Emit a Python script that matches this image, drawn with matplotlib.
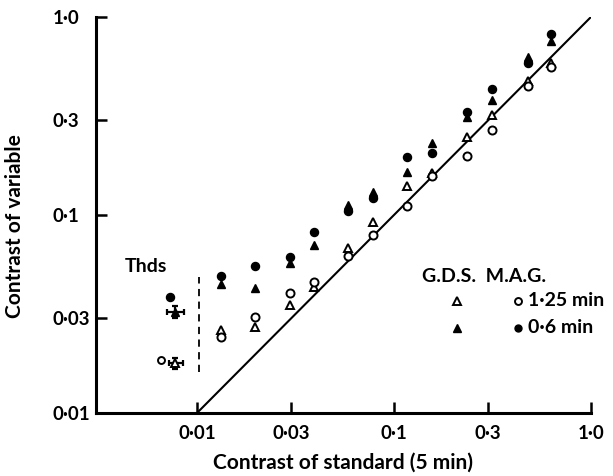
import matplotlib.pyplot as plt
import numpy as np

# contrast of standard (x) for each column of points
standard = [0.0132, 0.0197, 0.0296, 0.0392, 0.0582, 0.078,
            0.117, 0.155, 0.236, 0.313, 0.477, 0.630]

# contrast of variable (y) for the four series
gds_125 = [0.0262, 0.0272, 0.0351, 0.0433, 0.0681, 0.0922,
           0.140, 0.163, 0.248, 0.320, 0.475, 0.586]   # open triangles
mag_125 = [0.0242, 0.0305, 0.0404, 0.0459, 0.0621, 0.0793,
           0.111, 0.157, 0.199, 0.269, 0.448, 0.559]   # open circles
gds_06 = [0.0449, 0.0428, 0.0572, 0.0705, 0.112, 0.131,
          0.165, 0.231, 0.313, 0.381, 0.628, 0.757]    # filled triangles
mag_06 = [0.0492, 0.0552, 0.0614, 0.082, 0.105, 0.122,
          0.196, 0.206, 0.331, 0.433, 0.586, 0.821]    # filled circles

# thresholds (Thds)
thd_mag_x = [0.00658, 0.0073]          # open circle, filled circle
thd_mag_y = [0.0185, 0.0385]
thd_gds_x = [0.00773, 0.00773]         # open triangle, filled triangle
thd_gds_y = [0.0179, 0.0324]
thd_gds_xlo = [0.00721, 0.00705]
thd_gds_xhi = [0.00849, 0.00859]
thd_gds_ylo = [0.0167, 0.0302]
thd_gds_yhi = [0.0190, 0.0347]

dash_x = 0.0102
dash_y = [0.0161, 0.0486]

ticks = [0.01, 0.03, 0.1, 0.3, 1.0]
tick_labels = ['0·01', '0·03', '0·1', '0·3', '1·0']

plt.rcParams['font.family'] = ['Lato', 'DejaVu Sans']
plt.rcParams['font.weight'] = 'bold'

fig = plt.figure(figsize=(6.13, 4.76), dpi=100)
ax = fig.add_axes([0.1566, 0.1324, 0.8075, 0.832])

ax.set_xscale('log')
ax.set_yscale('log')
ax.set_xlim(0.00307, 1.0)
ax.set_ylim(0.01, 1.0)

ax.plot([0.01, 1.0], [0.01, 1.0], color='black', lw=1.5, zorder=1)
ax.plot([dash_x, dash_x], dash_y, color='black', lw=1.3, ls=(0, (4, 3)), zorder=1)

ms = 5.8
ax.plot(standard, gds_125, ls='none', marker='^', ms=ms, mfc='white', mec='black', mew=1.4, zorder=3)
ax.plot(standard, mag_125, ls='none', marker='o', ms=ms, mfc='white', mec='black', mew=1.4, zorder=3)
ax.plot(standard, gds_06, ls='none', marker='^', ms=ms, color='black', zorder=4)
ax.plot(standard, mag_06, ls='none', marker='o', ms=ms, color='black', zorder=4)

# thresholds
ax.plot(thd_mag_x[0], thd_mag_y[0], ls='none', marker='o', ms=5, mfc='white', mec='black', mew=1.4)
ax.plot(thd_mag_x[1], thd_mag_y[1], ls='none', marker='o', ms=ms, color='black')
xerr = [np.array(thd_gds_x) - np.array(thd_gds_xlo), np.array(thd_gds_xhi) - np.array(thd_gds_x)]
yerr = [np.array(thd_gds_y) - np.array(thd_gds_ylo), np.array(thd_gds_yhi) - np.array(thd_gds_y)]
ax.errorbar(thd_gds_x, thd_gds_y, xerr=xerr, yerr=yerr, fmt='none', ecolor='black',
            elinewidth=1.6, capsize=2, capthick=1.6)
ax.plot(thd_gds_x[0], thd_gds_y[0], ls='none', marker='^', ms=ms, mfc='white', mec='black', mew=1.4, zorder=5)
ax.plot(thd_gds_x[1], thd_gds_y[1], ls='none', marker='^', ms=ms, color='black', zorder=5)

ax.text(0.00431, 0.055, 'Thds', fontsize=14, ha='left', va='center')

# legend drawn as text + markers
ax.text(0.138, 0.049, 'G.D.S.  M.A.G.', fontsize=14, ha='left', va='center')
leg_x_tri = 0.208
leg_x_circ = 0.424
leg_y = [0.0368, 0.0269]
ax.plot(leg_x_tri, leg_y[0], ls='none', marker='^', ms=5.5, mfc='white', mec='black', mew=1.4)
ax.plot(leg_x_circ, leg_y[0], ls='none', marker='o', ms=5, mfc='white', mec='black', mew=1.4)
ax.plot(leg_x_tri, leg_y[1], ls='none', marker='^', ms=5.5, color='black')
ax.plot(leg_x_circ, leg_y[1], ls='none', marker='o', ms=5, color='black')
ax.text(0.477, leg_y[0], '1·25 min', fontsize=14, ha='left', va='center')
ax.text(0.477, leg_y[1], '0·6 min', fontsize=14, ha='left', va='center')

ax.set_xticks(ticks, tick_labels)
ax.set_yticks(ticks, tick_labels)
ax.minorticks_off()
ax.tick_params(direction='in', length=8, width=1.8, labelsize=13.5)
ax.tick_params(axis='x', pad=9)
ax.tick_params(axis='y', pad=31.5)
for lbl in ax.get_yticklabels():
    lbl.set_horizontalalignment('left')

for side in ['top', 'right']:
    ax.spines[side].set_visible(False)
for side in ['left', 'bottom']:
    ax.spines[side].set_linewidth(2.2)

ax.set_xlabel('Contrast of standard (5 min)', fontsize=15, fontweight='bold')
ax.set_ylabel('Contrast of variable', fontsize=15, fontweight='bold')
ax.xaxis.label.set_verticalalignment('center')
ax.yaxis.label.set_verticalalignment('center')
ax.xaxis.set_label_coords(0.5, -0.126)
ax.yaxis.set_label_coords(-0.164, 0.472)

fig.savefig('out.png', dpi=100)
